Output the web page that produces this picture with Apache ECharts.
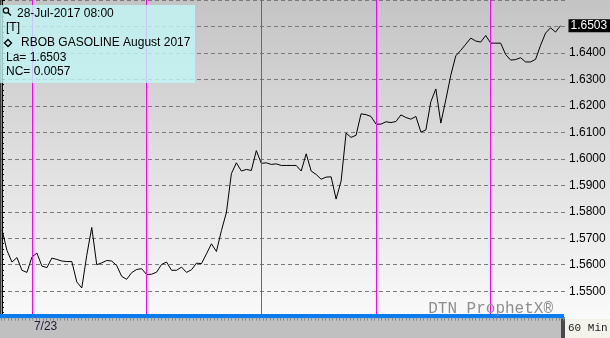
<!DOCTYPE html>
<html>
<head>
<meta charset="utf-8">
<script src="https://cdn.jsdelivr.net/npm/echarts@6/dist/echarts.min.js"></script>
<style>html,body{margin:0;padding:0;background:#fff}#c{width:610px;height:338px}</style>
</head>
<body>
<div id="c"></div>
<script>
// hourly (60 Min) RBOB Gasoline Aug 2017 prices, bar index 0..112
const prices = [
1.5732,1.5654,1.5610,1.5627,1.5579,1.5571,1.5629,1.5644,1.5595,1.5589,
1.5625,1.5620,1.5614,1.5612,1.5612,1.5535,1.5512,1.5636,1.5741,1.5600,
1.5607,1.5616,1.5614,1.5597,1.5556,1.5545,1.5570,1.5582,1.5585,1.5563,
1.5564,1.5572,1.5601,1.5610,1.5579,1.5579,1.5591,1.5571,1.5581,1.5606,
1.5604,1.5641,1.5679,1.5650,1.5729,1.5797,1.5944,1.5985,1.5954,1.5960,
1.5956,1.6031,1.5983,1.5985,1.5979,1.5981,1.5975,1.5975,1.5975,1.5975,
1.5954,1.6019,1.5954,1.5941,1.5923,1.5931,1.5932,1.5848,1.5916,1.6097,
1.6081,1.6089,1.6170,1.6167,1.6160,1.6131,1.6131,1.6140,1.6137,1.6141,
1.6166,1.6156,1.6150,1.6160,1.6101,1.6109,1.6216,1.6264,1.6135,1.6223,
1.6316,1.6389,1.6410,1.6433,1.6456,1.6445,1.6441,1.6466,1.6437,1.6437,
1.6437,1.6394,1.6373,1.6375,1.6382,1.6366,1.6366,1.6376,1.6429,1.6475,
1.6495,1.6479,1.6503
];
const sessionStarts = [6, 29, 52, 75, 98];   // bar index of each session start
const dateLabelIdx = [6];
const dateLabels = ['7/23'];
const yMin = 1.54, yMax = 1.66, yStep = 0.01;
const lastTime = '28-Jul-2017 08:00';
const symbolName = 'RBOB GASOLINE August 2017';
const lastPrice = 1.6503;
const netChange = 0.0057;

const seriesData = prices.map((p, i) => [i, p]);
const stripTicks = [];
for (let t = -0.2; t < 112.9; t += 0.7) stripTicks.push(+t.toFixed(2));

const FONT = '"Liberation Sans", Arial, sans-serif';
const MONO = '"Liberation Mono", "Courier New", monospace';

const chart = echarts.init(document.getElementById('c'), null, {renderer: 'canvas'});
chart.setOption({
  animation: false,
  grid: {left: 1, right: 45, top: -2.33, bottom: 20.33, containLabel: false},
  xAxis: [{
    type: 'value', min: -0.2, max: 112.9, z: 12,
    splitLine: {show: false},
    axisLine: {show: false},
    axisTick: {show: true, customValues: stripTicks, length: 3, lineStyle: {color: '#8a8a8a'}},
    axisLabel: {
      show: true, customValues: dateLabelIdx, margin: 3.5, align: 'left', padding: [0, 0, 0, 2],
      color: '#1c1c3c', fontFamily: FONT, fontSize: 12,
      formatter: v => dateLabels[dateLabelIdx.indexOf(Math.round(v))] || ''
    }
  }, {
    type: 'value', min: -0.2, max: 112.9, z: 13,
    splitLine: {show: false},
    axisLine: {show: false},
    axisTick: {show: true, customValues: dateLabelIdx, length: 21, lineStyle: {color: '#111', width: 1}},
    axisLabel: {show: false}
  }],
  yAxis: {
    type: 'value', position: 'right', min: yMin, max: yMax, interval: yStep,
    axisLine: {show: true, lineStyle: {color: '#000', width: 1}},
    axisTick: {show: true, length: 3, lineStyle: {color: '#000'}},
    minorTick: {show: true, splitNumber: 5, length: 2, lineStyle: {color: '#000'}},
    splitLine: {show: true, lineStyle: {color: '#7a7a7a', type: [4, 3], width: 1}},
    axisLabel: {
      show: true, margin: 4, color: '#000', fontFamily: FONT, fontSize: 12,
      showMinLabel: false, showMaxLabel: false,
      formatter: v => v.toFixed(4)
    }
  },
  series: [{
    type: 'line', data: seriesData, showSymbol: false, symbol: 'none',
    lineStyle: {color: '#000', width: 1},
    z: 2,
    endLabel: {
      show: true, distance: 8, formatter: () => lastPrice.toFixed(4),
      color: '#fff', backgroundColor: '#000', fontFamily: FONT, fontSize: 12,
      padding: [1, 3, 0, 2]
    },
    markLine: {
      silent: true, symbol: 'none', animation: false,
      label: {show: false},
      lineStyle: {color: '#ff00ff', type: 'solid', width: 1},
      data: sessionStarts.map(i => ({xAxis: i}))
    }
  }],
  graphic: [
    {type: 'rect', z: -100, shape: {x: 0, y: 0, width: 610, height: 318},
     style: {fill: new echarts.graphic.LinearGradient(0, 0, 0, 1, [
       {offset: 0, color: '#c4c4c4'}, {offset: 1, color: '#fafafa'}])}},
    {type: 'rect', z: 10, shape: {x: 0, y: 0, width: 1.5, height: 318}, style: {fill: '#3a3a3a'}},
    {type: 'rect', z: 10, shape: {x: 0, y: 314, width: 564, height: 4.5}, style: {fill: '#0a7cf0'}},
    {type: 'rect', z: 10, shape: {x: 0, y: 318.5, width: 561, height: 19.5}, style: {fill: '#c0c0c0'}},
    {type: 'rect', z: 10, shape: {x: 561, y: 318.5, width: 4, height: 19.5}, style: {fill: '#4a4a4a'}},
    {type: 'rect', z: 10, shape: {x: 565, y: 318.5, width: 45, height: 19.5}, style: {fill: '#f3f3ec'}},
    {type: 'text', z: 11, x: 568, y: 328.5, style: {text: '60 Min', font: '11px ' + MONO, fill: '#222', verticalAlign: 'middle', textAlign: 'left'}},
    {type: 'text', z: 11, x: 553, y: 308.5, style: {text: 'DTN ProphetX®', font: '16px ' + MONO, fill: '#8e8e8e', verticalAlign: 'middle', textAlign: 'right'}},
    {type: 'rect', z: 20, shape: {x: 0, y: 5, width: 195, height: 78}, style: {fill: 'rgba(192,246,245,0.8)'}},
    {type: 'circle', z: 21, shape: {cx: 6, cy: 10.5, r: 2.6}, style: {fill: 'none', stroke: '#000', lineWidth: 1.2}},
    {type: 'line', z: 21, shape: {x1: 8, y1: 12.5, x2: 11, y2: 15.5}, style: {stroke: '#000', lineWidth: 1.4}},
    {type: 'text', z: 21, x: 17, y: 13.5, style: {text: lastTime, font: '12px ' + FONT, fill: '#000', verticalAlign: 'middle'}},
    {type: 'text', z: 21, x: 6, y: 28, style: {text: '[T]', font: '12px ' + FONT, fill: '#000', verticalAlign: 'middle'}},
    {type: 'polygon', z: 21, shape: {points: [[8, 39.5], [11.5, 43], [8, 46.5], [4.5, 43]]}, style: {fill: 'none', stroke: '#000', lineWidth: 1.3}},
    {type: 'text', z: 21, x: 21, y: 43, style: {text: symbolName, font: '12px ' + FONT, fill: '#000', verticalAlign: 'middle'}},
    {type: 'text', z: 21, x: 6, y: 57.5, style: {text: 'La= ' + lastPrice.toFixed(4), font: '12px ' + FONT, fill: '#000', verticalAlign: 'middle'}},
    {type: 'text', z: 21, x: 6, y: 72, style: {text: 'NC= ' + netChange.toFixed(4), font: '12px ' + FONT, fill: '#000', verticalAlign: 'middle'}}
  ]
});
</script>
</body>
</html>
